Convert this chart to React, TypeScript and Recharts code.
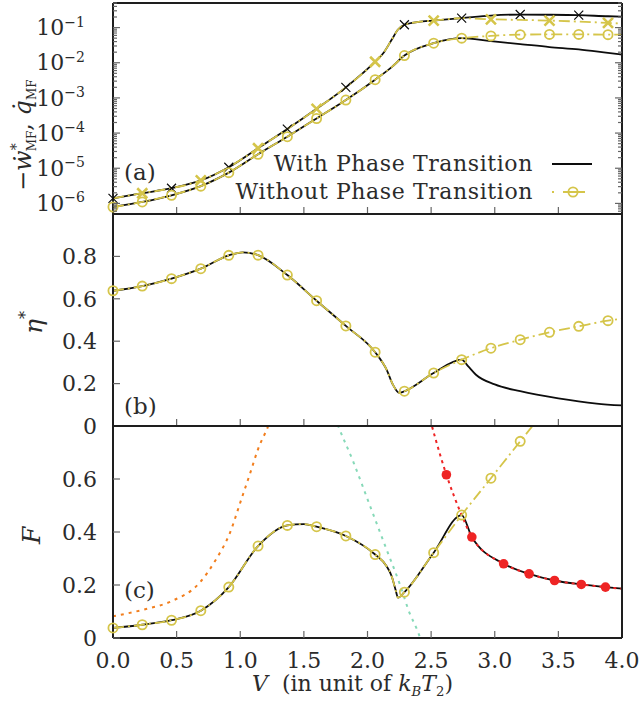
import React from 'react';
import { ComposedChart, Line, XAxis, YAxis } from 'recharts';

const FONT = '"DejaVu Serif", "Liberation Serif", serif';
const INK = '#2b2b2b';
const FRAME = '#1e1e1e';
const BLACK = '#0d0d0d';
const YELLOW = '#d5c54a';
const RED = '#ee2424';
const ORANGE = '#f27e1d';
const TEAL = '#86d9b8';

const W = 639;
const PLOT_L = 113;
const PLOT_R = 622;

const xTicks = [0, 0.5, 1, 1.5, 2, 2.5, 3, 3.5, 4];
const etaTicks = [0, 0.2, 0.4, 0.6, 0.8];
const fTicks = [0, 0.2, 0.4, 0.6];

// log axis: decades labelled, 2..9 as minor ticks
const logTicks: number[] = [];
for (let e = -7; e <= -1; e++) {
  for (let m = 1; m <= 9; m++) {
    const t = m * Math.pow(10, e);
    if (t >= 5e-7 && t <= 0.5) logTicks.push(t);
  }
}

// V where the symbols sit
const markV = [0, 0.23, 0.46, 0.69, 0.91, 1.14, 1.37, 1.6, 1.83, 2.06, 2.29, 2.52, 2.74, 2.97, 3.2, 3.43, 3.66, 3.89];
const crossEven = markV.filter((_, i) => i % 2 === 0);
const crossOdd = markV.filter((_, i) => i % 2 === 1);

// (a) -w*  (same with / without transition up to V = 2.74)
const wSharedV = [0, 0.23, 0.46, 0.69, 0.91, 1.14, 1.37, 1.6, 1.83, 2.06, 2.13, 2.19, 2.24, 2.29, 2.4, 2.52, 2.74];
const wShared = [1.39e-6, 1.95e-6, 2.7e-6, 4.5e-6, 1.07e-5, 3.7e-5, 1.3e-4, 4.9e-4, 2.0e-3, 1.07e-2, 0.02, 0.045, 0.088, 0.12, 0.145, 0.158, 0.185];
const wTailV = [2.97, 3.2, 3.43, 3.66, 3.89, 4.0];
const wWithTail = [0.22, 0.235, 0.232, 0.225, 0.21, 0.205];
const wWithoutTail = [0.172, 0.165, 0.158, 0.148, 0.136, 0.13];

// (a) q
const qSharedV = [0, 0.23, 0.46, 0.69, 0.91, 1.14, 1.37, 1.6, 1.83, 2.06, 2.19, 2.29, 2.52, 2.74];
const qShared = [7.9e-7, 1.1e-6, 1.7e-6, 3.1e-6, 7.5e-6, 2.5e-5, 7.9e-5, 2.6e-4, 8.7e-4, 3.3e-3, 7.5e-3, 1.6e-2, 3.6e-2, 0.05];
const qTailV = [2.97, 3.2, 3.43, 3.66, 3.89, 4.0];
const qWithTail = [0.041, 0.034, 0.028, 0.024, 0.019, 0.017];
const qWithoutTail = [0.058, 0.063, 0.064, 0.064, 0.063, 0.063];

// (b) eta*
const etaSharedV = [0, 0.23, 0.46, 0.69, 0.91, 1.02, 1.14, 1.37, 1.6, 1.83, 2.06, 2.15, 2.2, 2.25, 2.29, 2.52, 2.74];
const etaShared = [0.638, 0.66, 0.695, 0.742, 0.805, 0.819, 0.806, 0.712, 0.591, 0.472, 0.348, 0.266, 0.195, 0.156, 0.164, 0.25, 0.313];
const etaWithV = [2.79, 2.85, 3.0, 3.2, 3.5, 3.8, 4.0];
const etaWith = [0.282, 0.243, 0.196, 0.164, 0.13, 0.106, 0.097];
const etaWithoutV = [2.97, 3.2, 3.43, 3.66, 3.89, 4.0];
const etaWithout = [0.367, 0.407, 0.442, 0.47, 0.497, 0.506];

// (c) F
const fSharedV = [0, 0.23, 0.46, 0.69, 0.91, 1.14, 1.37, 1.5, 1.6, 1.83, 2.06, 2.15, 2.19, 2.22, 2.24, 2.29, 2.52, 2.74];
const fShared = [0.038, 0.05, 0.067, 0.103, 0.192, 0.347, 0.425, 0.43, 0.42, 0.385, 0.315, 0.271, 0.233, 0.183, 0.152, 0.173, 0.322, 0.464];
const fWithV = [2.82, 3.07, 3.27, 3.47, 3.68, 3.87, 4.0];
const fWith = [0.381, 0.28, 0.242, 0.217, 0.202, 0.192, 0.186];
const fWithoutV = [2.97, 3.2, 3.43];
const fWithout = [0.603, 0.742, 0.88];
const redV = [2.45, 2.62, 2.74, 2.82, 3.07, 3.27, 3.47, 3.68, 3.87, 4.0];
const redF = [0.9, 0.616, 0.464, 0.381, 0.28, 0.242, 0.217, 0.202, 0.192, 0.186];
const redMarks = [2.62, 2.82, 3.07, 3.27, 3.47, 3.68, 3.87];
const orangeV = [0, 0.24, 0.46, 0.68, 0.81, 0.92, 1.0, 1.08, 1.14, 1.22, 1.28];
const orangeF = [0.082, 0.107, 0.139, 0.208, 0.297, 0.398, 0.511, 0.625, 0.713, 0.8, 0.88];
const tealV = [1.7, 1.77, 1.89, 2.02, 2.15, 2.26, 2.33, 2.39, 2.45];
const tealF = [0.89, 0.8, 0.663, 0.498, 0.334, 0.195, 0.095, 0.031, -0.05];

const pts = (vs: number[], ys: number[]) => vs.map((v, i) => ({ v, y: ys[i] }));

const wWith = pts([...wSharedV, ...wTailV], [...wShared, ...wWithTail]);
const wWithout = pts([...wSharedV, ...wTailV], [...wShared, ...wWithoutTail]);
const qWith = pts([...qSharedV, ...qTailV], [...qShared, ...qWithTail]);
const qWithout = pts([...qSharedV, ...qTailV], [...qShared, ...qWithoutTail]);
const etaWithData = pts([...etaSharedV, ...etaWithV], [...etaShared, ...etaWith]);
const etaWithoutData = pts([...etaSharedV, ...etaWithoutV], [...etaShared, ...etaWithout]);
const fWithData = pts([...fSharedV, ...fWithV], [...fShared, ...fWith]);
const fWithoutData = pts([...fSharedV, ...fWithoutV], [...fShared, ...fWithout]);

const axisLine = { stroke: FRAME, strokeWidth: 2 };
const tickLine = { stroke: '#666', strokeWidth: 1.2 };
const tickFont = { fontSize: 22, fontFamily: FONT, fill: INK };
const blank = () => '';
const DASHDOT = '11 4 2 4';

function marker(kind: 'x' | 'X' | 'o' | 'dot', color: string, at: number[]) {
  return (p: any) => {
    const { cx, cy, index, payload } = p;
    const key = `m-${index}`;
    if (cx == null || cy == null || !at.includes(payload.v)) return <g key={key} />;
    if (kind === 'o') return <circle key={key} cx={cx} cy={cy} r={4.6} fill="none" stroke={color} strokeWidth={1.8} />;
    if (kind === 'dot') return <circle key={key} cx={cx} cy={cy} r={4.8} fill={color} />;
    const s = kind === 'X' ? 5 : 4.5;
    return (
      <path
        key={key}
        d={`M${cx - s},${cy - s}L${cx + s},${cy + s}M${cx - s},${cy + s}L${cx + s},${cy - s}`}
        stroke={color}
        strokeWidth={kind === 'X' ? 2.6 : 1.2}
        fill="none"
      />
    );
  };
}

function logTick(side: 'left' | 'right') {
  return (p: any) => {
    const v = p.payload.value;
    const y = p.y;
    const e = Math.floor(Math.log10(v) + 1e-9);
    const major = Math.abs(v / Math.pow(10, e) - 1) < 1e-6;
    const len = major ? 7 : 4;
    const x1 = side === 'left' ? PLOT_L : PLOT_R - len;
    return (
      <g>
        <line x1={x1} x2={x1 + len} y1={y} y2={y} stroke="#666" strokeWidth={1.2} />
        {side === 'left' && major && (
          <text x={PLOT_L - 28} y={y} dy="0.35em" textAnchor="end" fontFamily={FONT} fill={INK} fontSize={22}>
            <tspan>10</tspan>
            <tspan dy="-0.62em" fontSize={14}>{`\u2212${-e}`}</tspan>
          </text>
        )}
      </g>
    );
  };
}

const topAxis = (
  <XAxis xAxisId="top" orientation="top" type="number" domain={[0, 4]} ticks={xTicks} height={10}
    tickSize={-7} tickFormatter={blank} axisLine={axisLine} tickLine={tickLine} />
);

function PanelA() {
  return (
    <div style={{ position: 'absolute', left: 0, top: -7 }}>
      <ComposedChart width={W} height={241} margin={{ top: 0, right: 9, bottom: 0, left: 53 }}>
        <XAxis dataKey="v" type="number" domain={[0, 4]} ticks={xTicks} height={20} tickSize={-7}
          tickFormatter={blank} axisLine={axisLine} tickLine={tickLine} />
        {topAxis}
        <YAxis type="number" scale="log" domain={[5e-7, 0.5]} allowDataOverflow ticks={logTicks} width={60}
          tickLine={false} tick={logTick('left')} axisLine={axisLine} interval={0} />
        <YAxis yAxisId="r" orientation="right" type="number" scale="log" domain={[5e-7, 0.5]} allowDataOverflow
          ticks={logTicks} width={8} tickLine={false} tick={logTick('right')} axisLine={axisLine} interval={0} />
        <Line data={wWith} dataKey="y" type="monotone" stroke={BLACK} strokeWidth={1.8}
          dot={marker('x', BLACK, crossEven)} activeDot={false} isAnimationActive={false} />
        <Line data={qWith} dataKey="y" type="monotone" stroke={BLACK} strokeWidth={1.8}
          dot={false} activeDot={false} isAnimationActive={false} />
        <Line data={wWithout} dataKey="y" type="monotone" stroke={YELLOW} strokeWidth={1.8} strokeDasharray={DASHDOT}
          dot={marker('X', YELLOW, crossOdd)} activeDot={false} isAnimationActive={false} />
        <Line data={qWithout} dataKey="y" type="monotone" stroke={YELLOW} strokeWidth={1.8} strokeDasharray={DASHDOT}
          dot={marker('o', YELLOW, markV)} activeDot={false} isAnimationActive={false} />
      </ComposedChart>
    </div>
  );
}

function PanelB() {
  return (
    <div style={{ position: 'absolute', left: 0, top: 204 }}>
      <ComposedChart width={W} height={242} margin={{ top: 0, right: 9, bottom: 0, left: 53 }}>
        <XAxis dataKey="v" type="number" domain={[0, 4]} ticks={xTicks} height={20} tickSize={-7}
          tickFormatter={blank} axisLine={axisLine} tickLine={tickLine} />
        {topAxis}
        <YAxis type="number" domain={[0, 1]} allowDataOverflow ticks={etaTicks} width={60} tickSize={-7} tickMargin={23}
          interval={0} tickFormatter={(t: number) => (t === 0 ? '0' : t.toFixed(1))} tick={tickFont}
          axisLine={axisLine} tickLine={tickLine} />
        <YAxis yAxisId="r" orientation="right" type="number" domain={[0, 1]} width={8} tick={false} axisLine={axisLine} />
        <Line data={etaWithData} dataKey="y" type="monotone" stroke={BLACK} strokeWidth={1.8}
          dot={false} activeDot={false} isAnimationActive={false} />
        <Line data={etaWithoutData} dataKey="y" type="monotone" stroke={YELLOW} strokeWidth={1.8} strokeDasharray={DASHDOT}
          dot={marker('o', YELLOW, markV)} activeDot={false} isAnimationActive={false} />
      </ComposedChart>
    </div>
  );
}

function PanelC() {
  return (
    <div style={{ position: 'absolute', left: 0, top: 416 }}>
      <ComposedChart width={W} height={262} margin={{ top: 0, right: 9, bottom: 0, left: 53 }}>
        <XAxis dataKey="v" type="number" domain={[0, 4]} ticks={xTicks} height={40} tickSize={-7} tickMargin={21}
          interval={0} tickFormatter={(t: number) => t.toFixed(1)} tick={tickFont} axisLine={axisLine} tickLine={tickLine} />
        {topAxis}
        <YAxis type="number" domain={[0, 0.8]} allowDataOverflow ticks={fTicks} width={60} tickSize={-7} tickMargin={23}
          interval={0} tickFormatter={(t: number) => (t === 0 ? '0' : t.toFixed(1))} tick={tickFont}
          axisLine={axisLine} tickLine={tickLine} />
        <YAxis yAxisId="r" orientation="right" type="number" domain={[0, 0.8]} width={8} tick={false} axisLine={axisLine} />
        <Line data={pts(orangeV, orangeF)} dataKey="y" type="monotone" stroke={ORANGE} strokeWidth={2} strokeDasharray="3 5"
          dot={false} activeDot={false} isAnimationActive={false} />
        <Line data={pts(tealV, tealF)} dataKey="y" type="monotone" stroke={TEAL} strokeWidth={2} strokeDasharray="3 5"
          dot={false} activeDot={false} isAnimationActive={false} />
        <Line data={fWithData} dataKey="y" type="monotone" stroke={BLACK} strokeWidth={1.8}
          dot={false} activeDot={false} isAnimationActive={false} />
        <Line data={pts(redV, redF)} dataKey="y" type="monotone" stroke={RED} strokeWidth={2} strokeDasharray="3 4"
          dot={marker('dot', RED, redMarks)} activeDot={false} isAnimationActive={false} />
        <Line data={fWithoutData} dataKey="y" type="monotone" stroke={YELLOW} strokeWidth={1.8} strokeDasharray={DASHDOT}
          dot={marker('o', YELLOW, markV)} activeDot={false} isAnimationActive={false} />
      </ComposedChart>
    </div>
  );
}

const sub: React.CSSProperties = { fontSize: '0.6em', verticalAlign: '-0.35em', lineHeight: 0, fontStyle: 'normal' };

function Note({ x, y, text }: { x: number; y: number; text: string }) {
  return (
    <div style={{ position: 'absolute', left: x, top: y - 15, fontSize: 23, lineHeight: '30px' }}>{text}</div>
  );
}

export default function App() {
  return (
    <div style={{
      position: 'absolute', left: 0, top: 0, width: W, height: 710, overflow: 'hidden',
      background: '#fff', fontFamily: FONT, color: INK,
    }}>
      <PanelA />
      <PanelB />
      <PanelC />

      <Note x={124} y={172} text="(a)" />
      <Note x={124} y={406} text="(b)" />
      <Note x={124} y={590} text="(c)" />

      <svg width={60} height={710} style={{ position: 'absolute', left: 0, top: 0 }}>
        <text transform="translate(31,191) rotate(-90)" fontFamily={FONT} fontSize={24} fill={INK}>
          <tspan>{'\u2212'}</tspan>
          <tspan fontStyle="italic">{'\u1e87'}</tspan>
          <tspan fontSize={14} dy={-10}>*</tspan>
          <tspan fontSize={12} dx={-8} dy={15}>MF</tspan>
          <tspan dy={-5}>, </tspan>
          <tspan fontStyle="italic">{'q\u0307'}</tspan>
          <tspan fontSize={12} dy={5}>MF</tspan>
        </text>
        <text transform="translate(42,334) rotate(-90)" fontFamily={FONT} fontSize={25} fill={INK}>
          <tspan fontStyle="italic">{'\u03b7'}</tspan>
          <tspan fontSize={16} dy={-11}>*</tspan>
        </text>
        <text transform="translate(40,544) rotate(-90)" fontFamily={FONT} fontSize={25} fill={INK} fontStyle="italic">F</text>
      </svg>

      <div style={{ position: 'absolute', left: 252, top: 669, fontSize: 22, lineHeight: '30px', whiteSpace: 'nowrap' }}>
        <i>V</i>{'\u00a0\u00a0(in unit of '}<i>k</i><span style={{ ...sub, fontStyle: 'italic' }}>B</span>
        <i>T</i><span style={sub}>2</span>{')'}
      </div>

      <div style={{ position: 'absolute', right: W - 533, top: 150, textAlign: 'right', fontSize: 22, lineHeight: '28px', letterSpacing: 0.6, whiteSpace: 'nowrap' }}>
        <div>With Phase Transition</div>
        <div>Without Phase Transition</div>
      </div>
      <svg width={50} height={56} style={{ position: 'absolute', left: 548, top: 150 }}>
        <line x1={4} x2={44} y1={14} y2={14} stroke={BLACK} strokeWidth={2} />
        <line x1={4} x2={6} y1={42} y2={42} stroke={YELLOW} strokeWidth={2} />
        <line x1={15} x2={37} y1={42} y2={42} stroke={YELLOW} strokeWidth={2} />
        <circle cx={25} cy={42} r={4.6} fill="none" stroke={YELLOW} strokeWidth={1.8} />
      </svg>
    </div>
  );
}
